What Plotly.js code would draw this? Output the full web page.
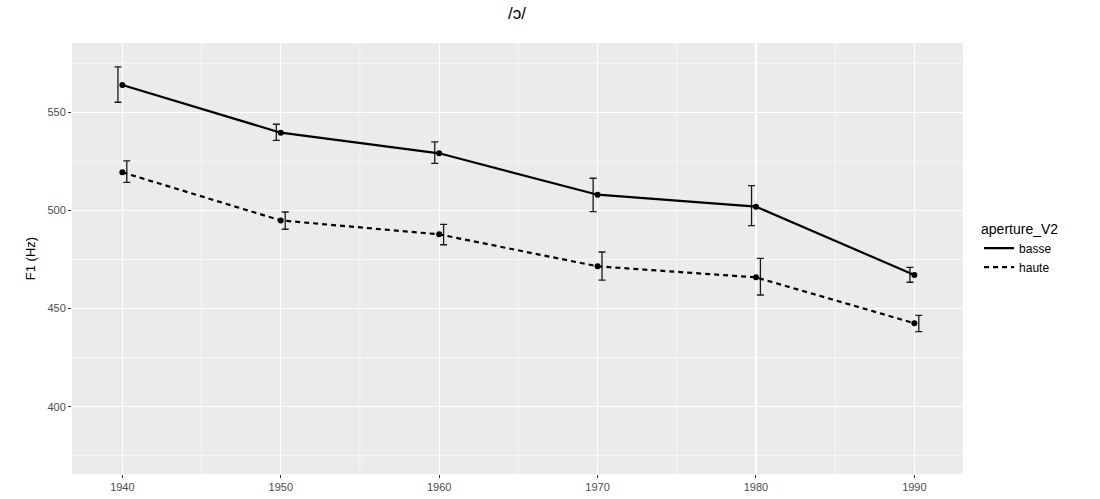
<!DOCTYPE html>
<html>
<head>
<meta charset="utf-8">
<script src="https://cdn.plot.ly/plotly-3.0.1.min.js"></script>
<style>html,body{margin:0;padding:0;background:#fff;}#chart{width:1100px;height:499px;}</style>
</head>
<body>
<div id="chart"></div>
<script>
const years = [1940, 1950, 1960, 1970, 1980, 1990];
const basseMean = [563.9, 539.6, 529.1, 508.0, 501.9, 467.1];
const basseUpper = [573.1, 543.9, 534.9, 516.4, 512.6, 471.0];
const basseLower = [555.1, 535.7, 524.0, 499.4, 492.2, 463.4];
const hauteMean = [519.4, 494.9, 487.8, 471.5, 465.9, 442.5];
const hauteUpper = [525.2, 499.2, 492.9, 478.8, 475.6, 446.5];
const hauteLower = [514.3, 490.4, 482.5, 464.5, 456.9, 438.2];
const yTicks = [400, 450, 500, 550];
const xTicks = [1940, 1950, 1960, 1970, 1980, 1990];

const dodge = 0.28;
const ink = '#000000';

function errTrace(mean, up, lo, shift) {
  return {
    x: years.map(v => v + shift), y: mean, type: 'scatter', mode: 'markers',
    marker: {size: 0.1, color: 'rgba(0,0,0,0)'},
    error_y: {type: 'data', symmetric: false,
      array: up.map((u, i) => u - mean[i]),
      arrayminus: lo.map((l, i) => mean[i] - l),
      color: '#1a1a1a', thickness: 1.3, width: 3.5},
    showlegend: false, hoverinfo: 'skip'
  };
}

const dashStyle = '5px,4px';
const traces = [
  errTrace(basseMean, basseUpper, basseLower, -dodge),
  errTrace(hauteMean, hauteUpper, hauteLower, dodge),
  {x: years, y: basseMean, type: 'scatter', mode: 'lines', name: 'basse',
   line: {color: ink, width: 2.2}},
  {x: years, y: hauteMean, type: 'scatter', mode: 'lines', name: 'haute',
   line: {color: ink, width: 2.2, dash: dashStyle}},
  {x: years, y: basseMean, type: 'scatter', mode: 'markers', showlegend: false,
   marker: {color: ink, size: 6}},
  {x: years, y: hauteMean, type: 'scatter', mode: 'markers', showlegend: false,
   marker: {color: ink, size: 6}}
];

const shapes = [];
[1945, 1955, 1965, 1975, 1985].forEach(v => shapes.push({type: 'line', xref: 'x', yref: 'paper', x0: v, x1: v, y0: 0, y1: 1, line: {color: '#ffffff', width: 0.6}, layer: 'below'}));
[375, 425, 475, 525, 575].forEach(v => shapes.push({type: 'line', xref: 'paper', yref: 'y', x0: 0, x1: 1, y0: v, y1: v, line: {color: '#ffffff', width: 0.6}, layer: 'below'}));

const layout = {
  width: 1100, height: 499,
  paper_bgcolor: '#ffffff', plot_bgcolor: '#EBEBEB',
  margin: {l: 72, r: 137, t: 43, b: 25},
  font: {family: 'Liberation Sans, Arial, sans-serif', color: '#4D4D4D', size: 11},
  title: {text: '/ɔ/', x: 0.47, xanchor: 'center', y: 0.985, yanchor: 'top', font: {size: 17, color: '#000000'}},
  xaxis: {range: [1936.82, 1993.07], tickvals: xTicks, ticktext: xTicks.map(String),
    showgrid: true, gridcolor: '#ffffff', gridwidth: 1.2, zeroline: false,
    ticks: 'outside', ticklen: 3, tickcolor: '#333333', tickwidth: 1, showline: false,
    tickfont: {size: 11, color: '#4D4D4D'}},
  yaxis: {range: [365.7, 585.3], tickvals: yTicks, ticktext: yTicks.map(String),
    showgrid: true, gridcolor: '#ffffff', gridwidth: 1.2, zeroline: false,
    ticks: 'outside', ticklen: 3, tickcolor: '#333333', tickwidth: 1, showline: false,
    tickfont: {size: 11, color: '#4D4D4D'},
    title: {text: 'F1 (Hz)', font: {size: 13, color: '#000000'}, standoff: 8}},
  legend: {x: 1.018, y: 0.6, xanchor: 'left', yanchor: 'top', bgcolor: 'rgba(0,0,0,0)',
    title: {text: 'aperture_V2', font: {size: 14, color: '#000000'}},
    font: {size: 12, color: '#000000'}, itemwidth: 30, tracegroupgap: 2},
  shapes: shapes,
  showlegend: true
};

Plotly.newPlot('chart', traces, layout, {displayModeBar: false, staticPlot: true});
</script>
</body>
</html>
